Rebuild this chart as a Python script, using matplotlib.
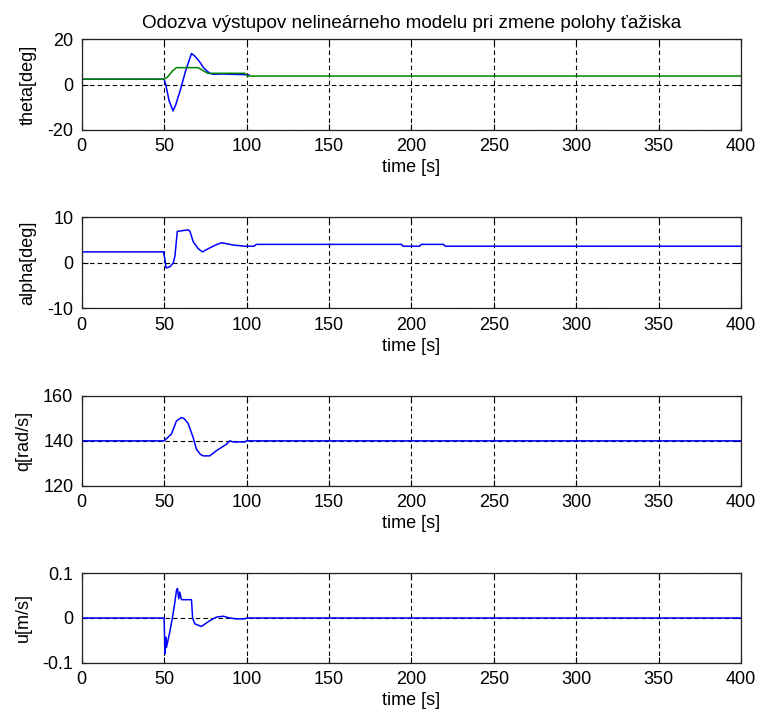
import matplotlib
matplotlib.use("Agg")
import matplotlib.pyplot as plt
import numpy as np

plt.rcParams['font.family'] = ['Liberation Sans', 'DejaVu Sans']

title = "Odozva výstupov nelineárneho modelu pri zmene polohy ťažiska"
xlabel = "time [s]"
xticks = [0, 50, 100, 150, 200, 250, 300, 350, 400]

# theta panel
theta_blue_t = [0, 50, 51, 53, 55.4, 57, 60, 63, 66.6, 68, 70, 71.6, 73.6, 76, 78, 80, 85, 90, 95, 100, 101.5]
theta_blue_v = [2.4, 2.4, 0, -7, -11.6, -9, -2, 6, 13.7, 13, 11.5, 10, 7.8, 6, 4.9, 4.6, 4.7, 4.6, 4.5, 4.4, 4.3]
theta_green_t = [0, 50, 52, 55, 57.5, 70.5, 73, 76.5, 99, 100.5, 400]
theta_green_v = [2.4, 2.4, 3.3, 6.0, 7.5, 7.5, 6.5, 5.0, 5.0, 3.8, 3.8]

# alpha panel
alpha_t = [0, 49.5, 50.1, 51.2, 53.6, 55.6, 56.6, 58.0, 64.7, 65.7, 67.7, 70.7, 73.3, 76.8, 81.8, 84.8, 87.8,
           91.9, 99, 104.5, 106, 194, 195, 205, 206, 219.5, 220.5, 400]
alpha_v = [2.4, 2.4, 1.6, -1.15, -0.85, 0.0, 1.6, 6.9, 7.25, 6.9, 4.6, 3.1, 2.4, 3.1, 4.0, 4.4, 4.2,
           3.9, 3.65, 3.65, 4.05, 4.05, 3.65, 3.65, 4.05, 4.05, 3.65, 3.65]

# q panel
q_t = [0, 50, 54.4, 57.5, 60.5, 62, 64.5, 67.6, 69.6, 72, 73.6, 77.7, 81.7, 87.8, 89.8, 92, 99, 100, 400]
q_v = [140, 140, 143, 148.9, 150.4, 150, 147.9, 141.5, 136.3, 134, 133.3, 133.3, 135.6, 138.5, 140, 139.5,
       139.5, 140, 140]

# u panel
u_t = [0, 50, 50.5, 51, 51.4, 53.4, 55, 56.4, 57.5, 58.1, 58.9, 59.5, 60.5, 66.6, 67.3, 68.6, 72.6, 77.7,
       81.7, 85.8, 89.8, 93.9, 99, 100, 400]
u_v = [0, 0, -0.08, -0.043, -0.066, -0.032, 0, 0.032, 0.062, 0.066, 0.043, 0.058, 0.041, 0.041, 0, -0.013,
       -0.019, -0.006, 0.002, 0.004, 0, -0.002, -0.002, 0, 0]

panels = [
    ("theta[deg]", (-20, 20), [-20, 0, 20], ["-20", "0", "20"]),
    ("alpha[deg]", (-10, 10), [-10, 0, 10], ["-10", "0", "10"]),
    ("q[rad/s]", (120, 160), [120, 140, 160], ["120", "140", "160"]),
    ("u[m/s]", (-0.1, 0.1), [-0.1, 0, 0.1], ["-0.1", "0", "0.1"]),
]

W, H = 761, 718
fig = plt.figure(figsize=(W / 100, H / 100), dpi=100)
left = 81.7 / W
width = (741 - 81.7) / W
tops = [39.3, 217.3, 396.0, 573.3]
bots = [130.0, 308.3, 485.7, 662.7]

BLUE = (0, 0, 1)
GREEN = (0, 0.5, 0)
FS = 13

axes = []
for i, (ylab, ylim, yt, ytl) in enumerate(panels):
    ax = fig.add_axes([left, 1 - bots[i] / H, width, (bots[i] - tops[i]) / H])
    axes.append(ax)
    ax.set_xlim(0, 400)
    ax.set_ylim(*ylim)
    ax.set_xticks(xticks)
    ax.set_xticklabels([str(v) for v in xticks])
    ax.set_yticks(yt)
    ax.set_yticklabels(ytl)
    ax.tick_params(direction='in', top=True, right=True, length=4, width=0.8,
                   labelsize=FS, pad=6)
    ax.grid(True, color='black', linestyle=(0, (4.0, 2.8)), linewidth=0.8)
    for s in ax.spines.values():
        s.set_linewidth(0.9)
        s.set_color('#222222')
    ax.set_xlabel(xlabel, fontsize=FS, labelpad=3)
    ax.set_ylabel(ylab, fontsize=FS, labelpad=8)

axes[0].plot(theta_blue_t, theta_blue_v, color=BLUE, lw=1.1)
axes[0].plot(theta_green_t, theta_green_v, color=GREEN, lw=1.1)
axes[1].plot(alpha_t, alpha_v, color=BLUE, lw=1.1)
axes[2].plot(q_t, q_v, color=BLUE, lw=1.1)
axes[3].plot(u_t, u_v, color=BLUE, lw=1.1)

axes[0].set_title(title, fontsize=13.6, pad=8)

fig.savefig("out.png", dpi=100)
